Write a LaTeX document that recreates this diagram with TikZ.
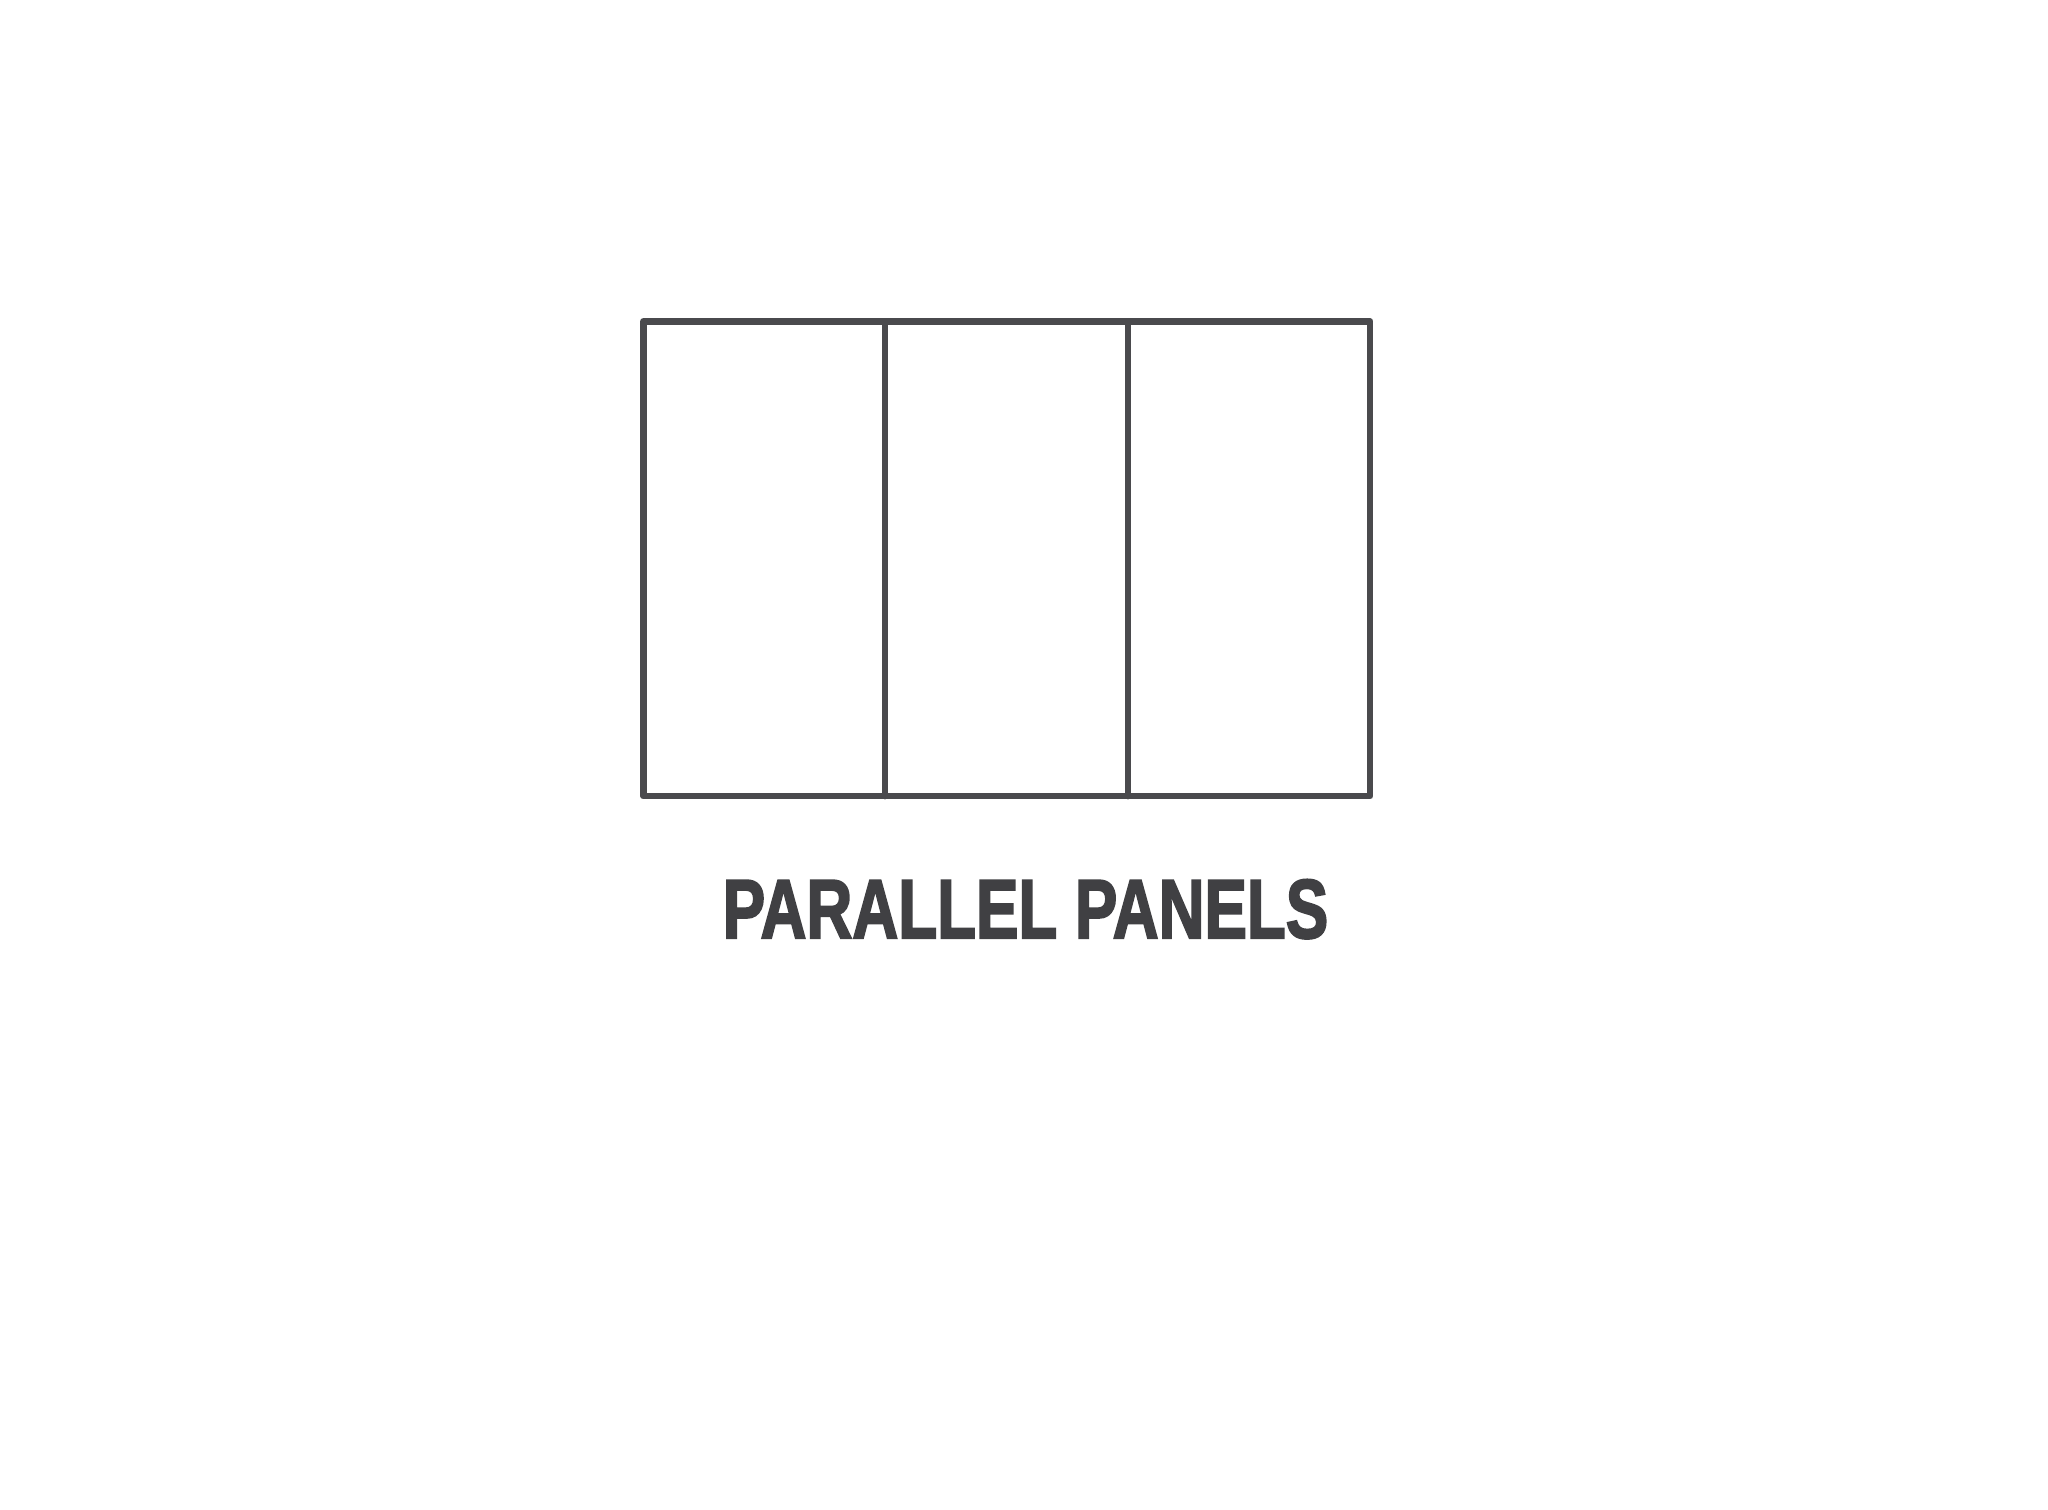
\documentclass[tikz,border=0pt]{standalone}
\usepackage{fontspec}
\setmainfont{Liberation Sans}
\newfontfamily\titlefont[FakeBold=2.6]{Liberation Sans Bold}
\definecolor{ink}{HTML}{4A4A4D}
\definecolor{txt}{HTML}{404043}
\begin{document}
\begin{tikzpicture}[x=0.01cm,y=-0.01cm,
  panel/.style={draw=ink,line width=1.95pt,line join=round,line cap=round},
  title/.style={text=txt,font=\titlefont\fontsize{23.8pt}{24pt}\selectfont,inner sep=0pt,anchor=base}]
\useasboundingbox (0,0) rectangle (2048,1510);
\fill[white] (0,0) rectangle (2048,1510);
\draw[panel] (643.5,321.5) rectangle (1370,796);
\draw[panel] (885,321.5) -- (885,796);
\draw[panel] (1128,321.5) -- (1128,796);
\node[title] (lbl) at (1025.5,938) {\scalebox{0.76}[1]{PARALLEL PANELS}};
\end{tikzpicture}
\end{document}
